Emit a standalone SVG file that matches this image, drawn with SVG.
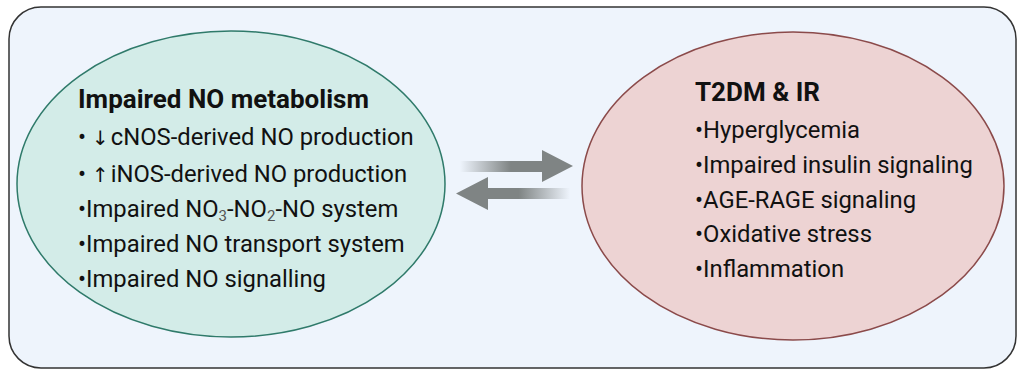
<svg xmlns="http://www.w3.org/2000/svg" width="1024" height="371" viewBox="0 0 1024 371">
<style>
.t{font-family:Roboto,"Liberation Sans",sans-serif;fill:#111;}
.h{font-size:26px;font-weight:bold;}
.i{font-size:23.8px;}
.s{font-size:15px;fill:#555;}
.a{font-family:"DejaVu Sans",sans-serif;fill:#111;font-size:20px;}
</style>
<defs>
<linearGradient id="gR" x1="460" y1="0" x2="573" y2="0" gradientUnits="userSpaceOnUse">
<stop offset="0" stop-color="#7f8484" stop-opacity="0"/>
<stop offset="0.45" stop-color="#7f8484" stop-opacity="1"/>
<stop offset="1" stop-color="#7f8484"/>
</linearGradient>
<linearGradient id="gL" x1="570" y1="0" x2="456" y2="0" gradientUnits="userSpaceOnUse">
<stop offset="0" stop-color="#7f8484" stop-opacity="0"/>
<stop offset="0.45" stop-color="#7f8484" stop-opacity="1"/>
<stop offset="1" stop-color="#7f8484"/>
</linearGradient>
</defs>
<rect x="9" y="7" width="1007" height="361" rx="32" fill="#eef4fc" stroke="#333" stroke-width="1.5"/>
<g id="no-metabolism">
<ellipse cx="231" cy="184" rx="214" ry="153" fill="#d3ece8" stroke="#2f7a6a" stroke-width="1.5"/>
<text class="t h" x="78" y="108">Impaired NO metabolism</text>
<text class="t i" x="78" y="145">• <tspan class="a">↓</tspan><tspan dx="2">cNOS-derived NO production</tspan></text>
<text class="t i" x="78" y="182">• <tspan class="a">↑</tspan><tspan dx="2">iNOS-derived NO production</tspan></text>
<text class="t i" x="78" y="217">•Impaired NO<tspan class="s" dy="4">3</tspan><tspan dy="-4">-NO</tspan><tspan class="s" dy="4">2</tspan><tspan dy="-4">-NO system</tspan></text>
<text class="t i" x="78" y="252">•Impaired NO transport system</text>
<text class="t i" x="78" y="287">•Impaired NO signalling</text>
</g>
<g id="t2dm">
<ellipse cx="793" cy="186" rx="211" ry="154" fill="#edd3d3" stroke="#8b4a4a" stroke-width="1.5"/>
<text class="t h" x="695" y="101">T2DM &amp; IR</text>
<text class="t i" x="695" y="138">•Hyperglycemia</text>
<text class="t i" x="695" y="173">•Impaired insulin signaling</text>
<text class="t i" x="695" y="208">•AGE-RAGE signaling</text>
<text class="t i" x="695" y="242">•Oxidative stress</text>
<text class="t i" x="695" y="277">•Inflammation</text>
</g>
<g id="connectors">
<polygon points="460,161 542,161 542,150 573,166 542,182 542,172 460,172" fill="url(#gR)"/>
<polygon points="570,188 488,188 488,177 456,193.5 488,210 488,199 570,199" fill="url(#gL)"/>
</g>
</svg>
